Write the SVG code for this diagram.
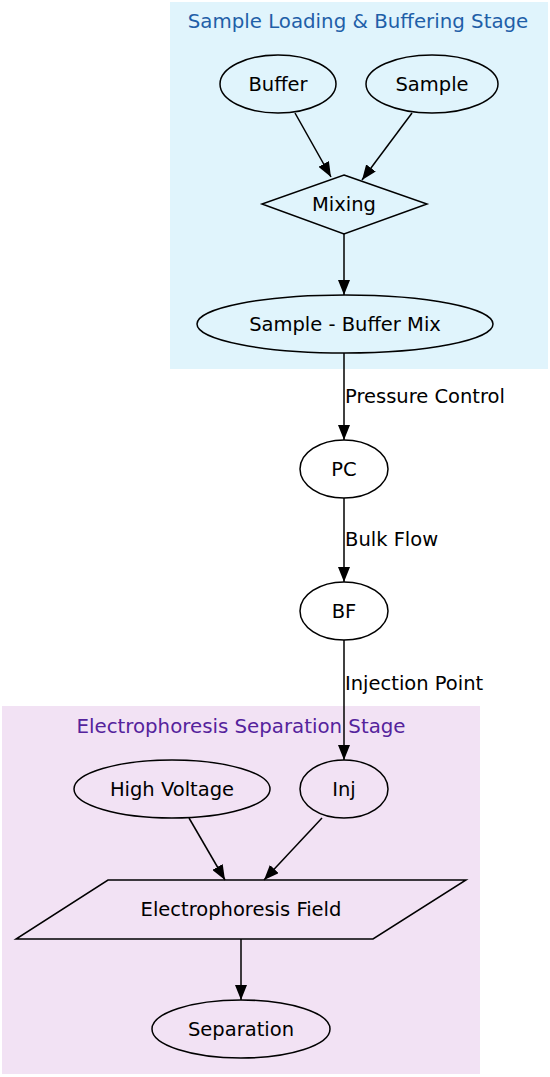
<svg xmlns="http://www.w3.org/2000/svg" width="550" height="1077" viewBox="0 0 550 1077">
<defs>
<style>
.node{fill:none;stroke:#000;stroke-width:1.5}
.t{font-family:"DejaVu Sans",sans-serif;font-size:19.5px;fill:#000;text-anchor:middle}
.lbl{font-family:"DejaVu Sans",sans-serif;font-size:19.5px;fill:#000;text-anchor:start}
.ttl{font-family:"DejaVu Sans",sans-serif;font-size:19.8px;text-anchor:middle}
.edge{stroke:#000;stroke-width:1.5;fill:none;marker-end:url(#ah)}
</style>
<marker id="ah" viewBox="0 0 15 12" refX="15" refY="6" markerWidth="15" markerHeight="12" markerUnits="userSpaceOnUse" orient="auto">
<path d="M0,0 L15,6 L0,12 Z" fill="#000"/>
</marker>
</defs>
<rect width="550" height="1077" fill="#fff"/>
<g id="cluster_loading">
<rect x="170" y="2" width="378" height="367" fill="#e0f4fc"/>
<text class="ttl" x="358" y="28" fill="#1f5fa8">Sample Loading &amp; Buffering Stage</text>
</g>
<g id="cluster_separation">
<rect x="2" y="706" width="478" height="368" fill="#f2e2f4"/>
<text class="ttl" x="241" y="733" fill="#55239c">Electrophoresis Separation Stage</text>
</g>
<g id="connectors">
<line class="edge" x1="295" y1="113" x2="331" y2="177"/>
<line class="edge" x1="412" y1="113" x2="362" y2="180"/>
<line class="edge" x1="344" y1="234" x2="344" y2="295"/>
<line class="edge" x1="344" y1="353" x2="344" y2="440"/>
<line class="edge" x1="344" y1="498" x2="344" y2="582"/>
<line class="edge" x1="344" y1="640" x2="344" y2="760"/>
<line class="edge" x1="189" y1="818" x2="225" y2="880"/>
<line class="edge" x1="322" y1="818" x2="264" y2="880"/>
<line class="edge" x1="241" y1="939" x2="241" y2="1000"/>
<text class="lbl" x="345" y="403">Pressure Control</text>
<text class="lbl" x="345" y="546">Bulk Flow</text>
<text class="lbl" x="345" y="690">Injection Point</text>
</g>
<g id="node_buffer">
<ellipse class="node" cx="278" cy="84" rx="58" ry="29"/>
<text class="t" x="278" y="91">Buffer</text>
</g>
<g id="node_sample">
<ellipse class="node" cx="432" cy="84" rx="66" ry="29"/>
<text class="t" x="432" y="91">Sample</text>
</g>
<g id="node_mixing">
<polygon class="node" points="344,175 427,204 344,234 262,204"/>
<text class="t" x="344" y="211">Mixing</text>
</g>
<g id="node_mix">
<ellipse class="node" cx="345" cy="324" rx="148" ry="29"/>
<text class="t" x="345" y="331">Sample - Buffer Mix</text>
</g>
<g id="node_pc">
<ellipse class="node" cx="344" cy="469" rx="44" ry="29"/>
<text class="t" x="344" y="476">PC</text>
</g>
<g id="node_bf">
<ellipse class="node" cx="344" cy="611" rx="44" ry="29"/>
<text class="t" x="344" y="618">BF</text>
</g>
<g id="node_hv">
<ellipse class="node" cx="172" cy="789" rx="98" ry="29"/>
<text class="t" x="172" y="796">High Voltage</text>
</g>
<g id="node_inj">
<ellipse class="node" cx="344" cy="789" rx="44" ry="29"/>
<text class="t" x="344" y="796">Inj</text>
</g>
<g id="node_field">
<polygon class="node" points="108,880 466,880 373,939 16,939"/>
<text class="t" x="241" y="916">Electrophoresis Field</text>
</g>
<g id="node_sep">
<ellipse class="node" cx="241" cy="1029" rx="89" ry="29"/>
<text class="t" x="241" y="1036">Separation</text>
</g>
</svg>
